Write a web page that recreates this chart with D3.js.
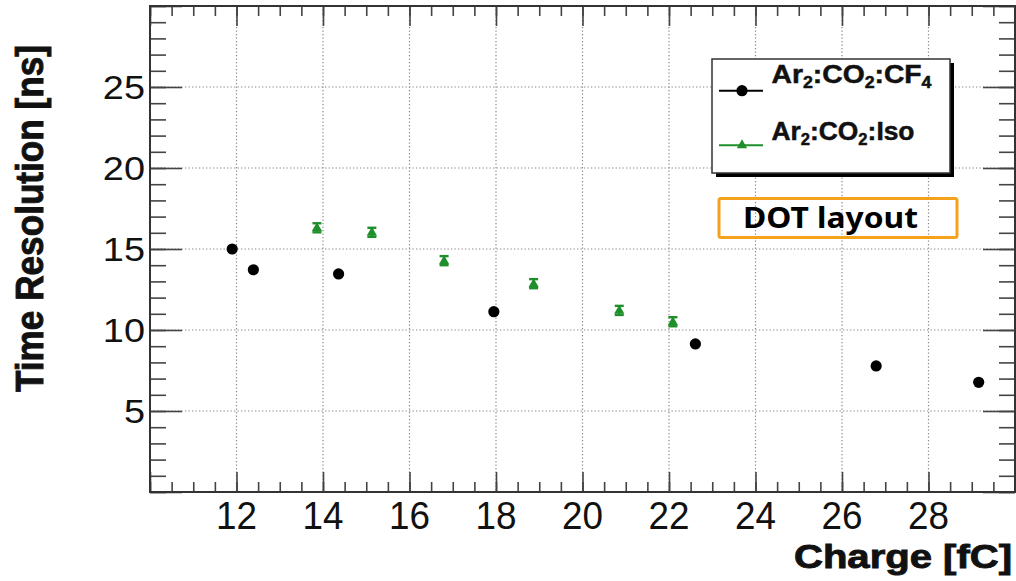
<!DOCTYPE html>
<html><head><meta charset="utf-8">
<script src="https://cdn.jsdelivr.net/npm/d3@7"></script>
<style>body{margin:0;background:#fff;overflow:hidden}</style>
</head><body>
<svg id="c" width="1016" height="581"></svg>
<script>
// ---- data ----
const cf4Charge = [11.90, 12.39, 14.36, 17.95, 22.61, 26.79, 29.16];
const cf4Res    = [15.00, 13.72, 13.46, 11.13, 9.14, 7.78, 6.77];
const isoCharge = [13.86, 15.13, 16.80, 18.87, 20.85, 22.09];
const isoRes    = [16.31, 16.03, 14.28, 12.86, 11.21, 10.51];
const isoErr    = [0.28, 0.28, 0.28, 0.28, 0.28, 0.28];
const xTickLabels = [12, 14, 16, 18, 20, 22, 24, 26, 28];
const yTickLabels = [5, 10, 15, 20, 25];
const xMajor = [10,12,14,16,18,20,22,24,26,28,30];
const xMinor = d3.range(10, 30.01, 0.5);
const yMajor = [0,5,10,15,20,25,30];
const yMinor = d3.range(0, 30.01, 1);
const seriesNames = ["CF4", "Iso"];

const W = 1016, H = 581;
const x = d3.scaleLinear().domain([10, 30]).range([150, 1015]);
const y = d3.scaleLinear().domain([0, 30]).range([492, 6]);
const svg = d3.select("#c");
const green = "#1f8f2b";

function stretch(sel, f){
  sel.each(function(){
    const L = this.getComputedTextLength();
    this.setAttribute("textLength", L*f);
    this.setAttribute("lengthAdjust", "spacingAndGlyphs");
  });
}
function fitLen(sel, len){
  sel.attr("textLength", len).attr("lengthAdjust", "spacingAndGlyphs");
}

svg.append("rect").attr("width", W).attr("height", H).attr("fill", "#fff");

// grid
const grid = svg.append("g").attr("stroke", "#888").attr("stroke-width", 1.2).attr("stroke-dasharray", "1.3,2.2");
grid.selectAll("line.gx").data(xTickLabels).enter().append("line")
  .attr("x1", d => x(d)).attr("x2", d => x(d)).attr("y1", y(30)).attr("y2", y(0));
grid.selectAll("line.gy").data(yTickLabels).enter().append("line")
  .attr("y1", d => y(d)).attr("y2", d => y(d)).attr("x1", x(10)).attr("x2", x(30));

// ticks using d3 axes (inside ticks)
function tickAxis(axis, tr){
  const g = svg.append("g").attr("transform", tr).call(axis);
  g.select(".domain").remove();
  g.selectAll("text").remove();
  g.selectAll("line").attr("stroke", "#444").attr("stroke-width", 1.6);
  return g;
}
tickAxis(d3.axisBottom(x).tickValues(xMinor).tickSize(-10), "translate(0,492)");
tickAxis(d3.axisBottom(x).tickValues(xMajor).tickSize(-20), "translate(0,492)");
tickAxis(d3.axisTop(x).tickValues(xMinor).tickSize(-10), "translate(0,6)");
tickAxis(d3.axisTop(x).tickValues(xMajor).tickSize(-20), "translate(0,6)");
tickAxis(d3.axisLeft(y).tickValues(yMinor).tickSize(-16), "translate(150,0)");
tickAxis(d3.axisLeft(y).tickValues(yMajor).tickSize(-32), "translate(150,0)");
tickAxis(d3.axisRight(y).tickValues(yMinor).tickSize(-16), "translate(1015,0)");
tickAxis(d3.axisRight(y).tickValues(yMajor).tickSize(-32), "translate(1015,0)");

// frame
svg.append("rect").attr("x", x(10)).attr("y", y(30)).attr("width", x(30)-x(10)).attr("height", y(0)-y(30))
  .attr("fill", "none").attr("stroke", "#333").attr("stroke-width", 2);

// tick labels
const xl = svg.append("g").selectAll("text").data(xTickLabels).enter().append("text")
  .attr("x", d => x(d)).attr("y", 529).attr("text-anchor", "middle")
  .attr("font-family", "Liberation Sans, Arial, sans-serif").attr("font-size", 38).attr("fill", "#111")
  .text(d => d);
stretch(xl, 0.97);
const yl = svg.append("g").selectAll("text").data(yTickLabels).enter().append("text")
  .attr("x", 145).attr("y", d => y(d) + 12).attr("text-anchor", "end")
  .attr("font-family", "Liberation Sans, Arial, sans-serif").attr("font-size", 33.5).attr("fill", "#111")
  .text(d => d);
stretch(yl, 1.13);

// axis titles
const xt = svg.append("text").attr("x", 1012).attr("y", 568).attr("text-anchor", "end")
  .attr("font-family", "Liberation Sans, Arial, sans-serif").attr("font-weight", "bold").attr("font-size", 33.5)
  .attr("fill", "#111").attr("stroke", "#111").attr("stroke-width", 0.9).text("Charge [fC]");
fitLen(xt, 218);
const yt = svg.append("text").attr("transform", "translate(43,392) rotate(-90)").attr("text-anchor", "start")
  .attr("font-family", "Liberation Sans, Arial, sans-serif").attr("font-weight", "bold").attr("font-size", 38)
  .attr("fill", "#111").attr("stroke", "#111").attr("stroke-width", 0.9).text("Time Resolution [ns]");
fitLen(yt, 347);

// data: iso (triangles with error bars)
const tri = d3.symbol().type(d3.symbolTriangle).size(46);
const isoData = isoCharge.map((c, i) => ({c, r: isoRes[i], e: isoErr[i]}));
const gi = svg.append("g");
const ie = gi.selectAll("g").data(isoData).enter().append("g");
ie.append("line").attr("x1", d => x(d.c)).attr("x2", d => x(d.c)).attr("y1", d => y(d.r - d.e)).attr("y2", d => y(d.r + d.e))
  .attr("stroke", green).attr("stroke-width", 2);
ie.append("line").attr("x1", d => x(d.c) - 4.5).attr("x2", d => x(d.c) + 4.5).attr("y1", d => y(d.r - d.e)).attr("y2", d => y(d.r - d.e))
  .attr("stroke", green).attr("stroke-width", 2.4);
ie.append("line").attr("x1", d => x(d.c) - 4.5).attr("x2", d => x(d.c) + 4.5).attr("y1", d => y(d.r + d.e)).attr("y2", d => y(d.r + d.e))
  .attr("stroke", green).attr("stroke-width", 2.4);
ie.append("path").attr("d", tri).attr("transform", d => `translate(${x(d.c)},${y(d.r)+0.5})`).attr("fill", green);

// data: cf4 circles
const cf4Data = cf4Charge.map((c, i) => ({c, r: cf4Res[i]}));
svg.append("g").selectAll("circle").data(cf4Data).enter().append("circle")
  .attr("cx", d => x(d.c)).attr("cy", d => y(d.r)).attr("r", 5.6).attr("fill", "#000");

// legend
const lg = svg.append("g");
lg.append("rect").attr("x", 716).attr("y", 63).attr("width", 238).attr("height", 114).attr("fill", "#000");
lg.append("rect").attr("x", 712).attr("y", 59).attr("width", 238).attr("height", 114).attr("fill", "#fff")
  .attr("stroke", "#333").attr("stroke-width", 1.5);
const legRows = [
  {name: seriesNames[0], ly: 90.7, ty: 82.7, color: "#000", parts: [["Ar",0],["2",1],[":CO",0],["2",1],[":CF",0],["4",1]], len: 160},
  {name: seriesNames[1], ly: 145.3, ty: 140, color: green, parts: [["Ar",0],["2",1],[":CO",0],["2",1],[":Iso",0]], len: 143}
];
legRows.forEach((r, i) => {
  lg.append("line").attr("x1", 719).attr("x2", 763).attr("y1", r.ly).attr("y2", r.ly).attr("stroke", r.color).attr("stroke-width", 2);
  if (i === 0) lg.append("circle").attr("cx", 742).attr("cy", r.ly).attr("r", 5.6).attr("fill", "#000");
  else lg.append("path").attr("d", tri).attr("transform", `translate(742,${r.ly})`).attr("fill", green);
  const t = lg.append("text").attr("x", 771.5).attr("y", r.ty)
    .attr("font-family", "Liberation Sans, Arial, sans-serif").attr("font-weight", "bold").attr("font-size", 25.5)
    .attr("fill", "#111").attr("stroke", "#111").attr("stroke-width", 0.5);
  let prevSub = false;
  r.parts.forEach(([s, sub]) => {
    const ts = t.append("tspan").text(s);
    if (sub) { ts.attr("font-size", 16).attr("dy", 5); prevSub = true; }
    else if (prevSub) { ts.attr("dy", -5); prevSub = false; }
  });
  fitLen(t, r.len);
});

// DOT layout box
svg.append("rect").attr("x", 719).attr("y", 198.5).attr("width", 238).attr("height", 39).attr("rx", 2)
  .attr("fill", "none").attr("stroke", "#f4a11c").attr("stroke-width", 3);
const dt = svg.append("text").attr("x", 743).attr("y", 228)
  .attr("font-family", "Noto Sans, Open Sans, sans-serif").attr("font-weight", "bold").attr("font-size", 29)
  .attr("fill", "#000").text("DOT layout");
fitLen(dt, 175);
</script>
</body></html>
